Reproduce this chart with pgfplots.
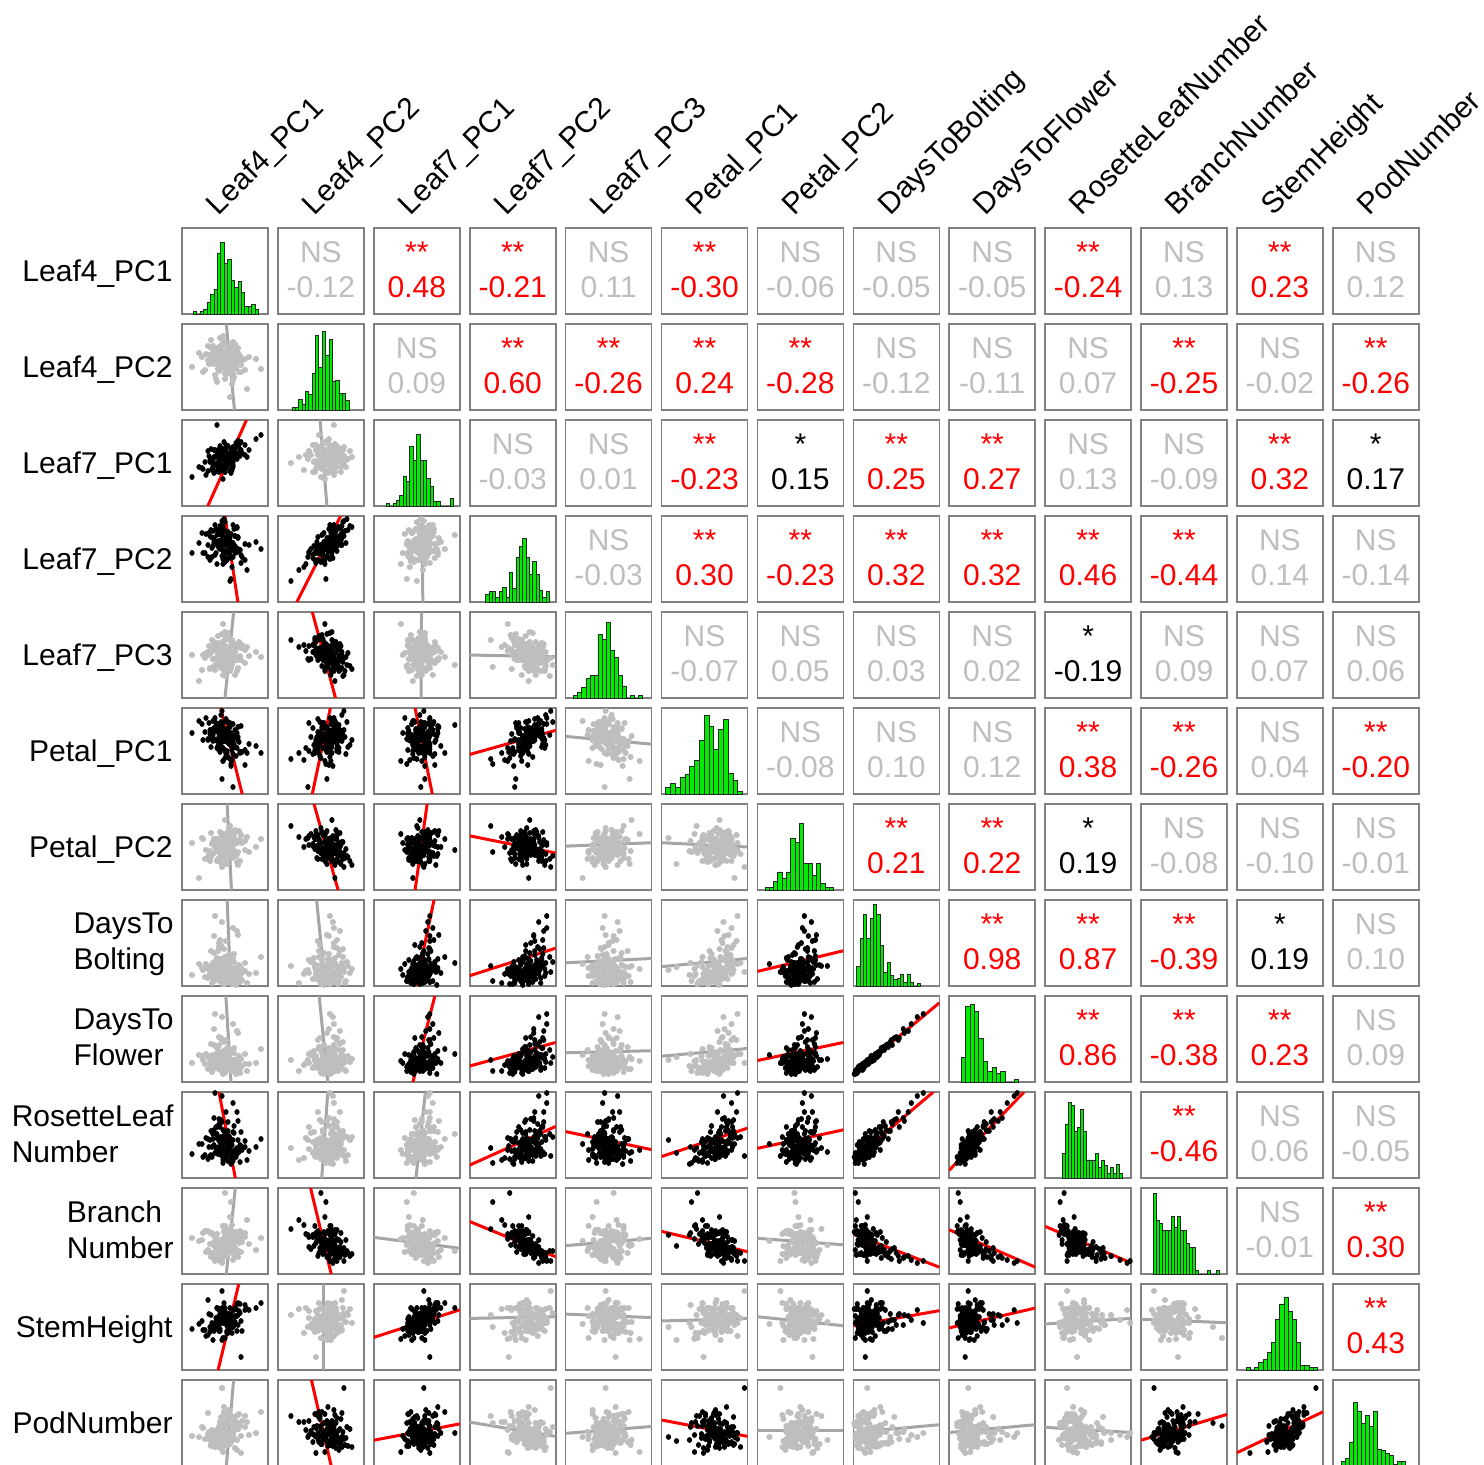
\documentclass[border=0pt]{standalone}
\usepackage{pgfplots}
\pgfplotsset{compat=1.18}
\usepackage{pgfplotstable}
\usepackage{fontspec}
\setmainfont{Liberation Sans}
\definecolor{nsgray}{RGB}{190,190,190}
\definecolor{linegray}{RGB}{165,165,165}
\definecolor{boxgray}{RGB}{128,128,128}
\definecolor{histgreen}{RGB}{0,235,0}
\definecolor{sigred}{RGB}{255,0,0}
\newcommand{\cellfont}{\fontsize{15}{17.5}\selectfont}
\newcommand{\lblfont}{\fontsize{15}{18}\selectfont}
% light-weight round dot mark (a tiny stroke with round caps)
\pgfdeclareplotmark{dot}{\pgfpathmoveto{\pgfqpoint{0pt}{0pt}}\pgfpathlineto{\pgfqpoint{0.01pt}{0pt}}\pgfusepathqstroke}

\pgfplotstableread{
v1 v2 v3 v4 v5 v6 v7 v8 v9 v10 v11 v12 v13
52 60 49 70 58 70 43 18 25 30 45 60 40
38 71 52 71 37 60 55 24 28 46 28 47 36
61 49 66 58 57 45 54 12 21 32 47 68 57
45 62 42 79 46 70 37 33 34 43 30 48 27
55 52 58 53 66 78 49 20 26 47 41 69 40
47 66 62 81 42 77 57 45 49 63 22 57 31
33 57 42 52 53 61 39 15 20 26 50 42 39
64 45 68 58 63 59 66 28 33 33 38 66 59
50 74 52 78 34 64 39 10 19 29 26 55 28
42 35 58 45 54 53 58 22 26 47 47 69 43
58 63 66 84 44 77 52 65 65 82 21 57 38
49 51 44 48 70 60 38 17 20 46 36 69 61
70 58 68 65 42 36 56 30 35 38 48 72 46
40 42 41 54 60 73 53 14 21 32 44 48 31
54 68 56 72 44 76 42 38 39 49 31 46 30
27 60 45 76 35 77 59 25 33 41 41 56 46
57 33 43 42 60 41 50 19 24 27 56 44 51
46 55 63 67 37 55 64 11 19 40 37 55 33
63 64 69 60 59 61 32 21 26 35 47 74 58
51 47 63 72 54 82 62 52 49 73 25 62 40
36 77 54 79 52 54 40 27 33 30 28 62 27
48 59 47 50 50 53 45 9 15 22 55 54 47
59 40 58 60 46 64 63 31 36 52 32 52 42
44 70 41 68 59 67 52 16 23 34 39 46 32
53 61 67 77 42 79 41 23 26 54 28 63 28
17 50 36 56 50 68 54 18 26 31 43 48 37
50 72 50 87 29 66 38 36 39 51 30 69 41
67 56 60 52 60 49 54 13 23 35 39 46 52
43 48 57 63 69 55 57 42 42 46 28 55 31
56 66 51 63 37 57 61 20 25 27 51 63 55
31 63 38 75 52 83 47 29 35 47 29 41 34
61 53 70 60 45 65 41 8 15 28 49 68 50
48 81 56 82 36 61 32 24 30 48 27 54 26
39 58 63 71 55 70 58 57 60 67 23 52 41
52 44 52 49 67 48 58 26 28 34 46 45 37
45 65 56 78 44 70 49 15 22 36 28 66 51
74 60 63 64 49 57 45 19 25 34 37 67 38
41 38 62 56 45 78 52 33 35 58 34 59 38
58 75 46 66 48 47 48 12 18 24 41 55 35
35 54 51 49 36 67 36 22 29 45 48 45 34
55 20 50 28 65 42 71 27 29 37 52 62 57
47 62 61 76 59 69 61 71 72 89 18 67 36
62 68 54 82 34 53 35 17 21 31 26 46 23
49 57 71 66 57 72 50 34 38 35 49 74 66
40 69 56 68 35 70 50 21 29 38 34 51 26
57 46 46 59 65 56 39 14 22 40 47 51 47
44 63 53 75 46 73 47 46 44 61 32 48 46
53 59 58 70 72 44 46 11 20 24 37 44 28
66 52 71 54 45 75 62 25 30 53 29 56 37
46 71 53 83 53 86 43 30 35 48 28 59 26
50 64 41 64 40 68 59 16 19 37 51 54 40
28 45 44 56 50 61 58 23 29 28 48 47 45
59 58 61 80 48 57 45 39 41 59 26 67 50
37 61 44 52 65 62 43 10 17 28 47 54 39
54 50 51 64 47 62 69 28 29 47 31 58 29
45 79 62 83 39 56 36 20 27 45 25 68 44
63 56 72 71 47 74 66 58 56 64 24 62 44
52 66 46 58 57 50 43 13 22 43 42 44 35
34 53 57 76 59 78 42 24 31 38 29 63 41
48 60 55 59 30 40 46 17 23 25 55 39 38
70 47 58 49 55 51 47 22 25 44 44 67 57
42 64 49 79 62 72 36 35 41 58 23 49 30
57 67 53 66 41 54 48 9 18 32 31 61 35
51 42 68 51 53 47 51 31 33 43 46 54 39
39 57 40 65 39 62 58 12 22 40 36 50 27
60 73 66 73 30 71 44 25 29 35 33 61 34
46 49 48 63 50 79 48 48 51 65 33 57 56
56 62 58 51 64 35 46 18 23 21 46 54 33
44 55 53 65 43 74 58 27 30 45 33 55 41
81 58 74 67 53 55 50 20 26 38 31 69 40
50 44 41 56 65 51 48 15 23 29 55 58 59
36 69 64 72 55 71 64 42 45 54 24 48 29
65 61 63 59 46 48 36 11 16 23 50 73 47
53 51 55 62 39 72 65 37 42 63 29 54 29
43 63 45 76 50 77 36 19 26 35 34 68 41
58 37 54 52 46 14 59 23 29 45 46 50 36
47 56 58 53 71 22 33 26 32 32 35 37 32
60 65 61 73 53 65 67 14 22 35 27 60 25
49 76 54 90 40 79 41 31 32 48 30 64 46
38 60 45 63 46 66 54 19 27 51 27 37 31
55 54 42 66 34 65 48 21 25 36 64 60 59
45 58 62 60 50 59 51 34 37 43 34 68 48
62 69 59 81 61 63 54 62 58 73 25 61 33
30 47 51 56 47 69 38 16 25 30 50 47 34
54 63 59 72 34 61 52 28 33 43 34 63 63
44 52 50 61 58 53 45 13 20 38 27 53 34
52 70 46 64 45 64 33 22 29 41 48 51 54
40 59 63 84 46 83 54 77 75 92 20 54 40
66 45 63 46 57 49 62 19 23 39 44 20 20
50 61 53 67 73 65 77 27 30 33 36 55 33
24 64 46 66 24 80 19 29 34 41 40 53 36
72 28 56 39 58 48 60 10 18 25 61 68 51
45 66 67 80 58 67 65 53 51 58 20 63 34
56 55 40 30 38 37 45 12 18 22 79 50 50
33 71 62 64 50 62 40 25 33 46 31 77 60
50 50 47 47 55 43 44 9 16 26 88 39 47
48 54 34 45 81 40 63 24 28 35 42 38 21
86 48 78 60 48 48 58 36 40 46 43 74 61
42 63 88 74 40 76 47 30 35 51 30 69 40
47 73 57 88 47 90 30 21 26 29 20 86 85
53 56 58 66 45 66 51 18 24 37 36 60 38
42 67 57 67 57 60 52 26 31 35 41 50 42
60 50 55 63 48 66 44 13 20 34 39 55 44
47 62 47 68 40 59 58 32 37 44 32 60 41
56 70 64 75 51 68 41 21 26 33 31 59 31
39 53 56 67 63 73 44 40 44 55 39 46 41
65 59 57 59 49 49 57 15 20 40 46 64 50
44 46 51 67 51 64 51 24 29 45 40 54 37
51 64 48 66 42 60 49 11 18 28 48 58 50
48 52 64 58 55 73 44 29 33 55 32 61 41
35 62 53 73 37 71 46 19 25 29 37 50 39
58 43 51 63 61 56 60 35 38 53 35 50 46
45 68 52 65 49 49 47 12 19 31 41 46 25
62 57 71 57 45 68 43 23 28 37 40 73 49
41 60 49 80 55 61 52 27 31 33 29 55 34
54 49 58 56 66 57 56 16 22 42 44 55 54
49 72 63 77 43 65 55 44 47 54 30 63 36
57 55 50 60 61 51 47 20 26 29 37 52 34
38 64 47 78 46 80 44 30 34 51 27 52 29
60 61 62 56 55 54 58 17 23 32 43 69 52
46 58 48 68 42 66 42 25 30 43 40 65 43
52 47 48 63 45 59 46 14 21 36 47 46 38
43 66 63 64 43 52 38 22 27 31 33 60 37
55 51 58 74 55 74 65 33 36 42 29 53 29
37 60 43 61 59 65 53 16 22 38 48 52 43
63 69 57 72 37 64 45 26 31 45 30 52 44
50 38 60 57 59 50 61 20 26 36 44 66 52
44 63 55 68 50 68 51 50 52 66 28 52 40
58 54 48 60 50 60 55 12 19 26 47 51 35
47 65 55 73 63 72 48 21 26 41 30 69 50
51 59 54 65 50 62 50 22 27 38 38 57 40
49 62 56 70 47 66 46 19 25 36 35 58 37
53 55 52 62 54 60 53 24 28 42 41 55 42
46 60 57 68 52 64 48 27 31 45 34 59 39
55 64 59 71 46 63 47 16 22 33 36 61 41
}\traits

\pgfplotsset{panel/.style={scale only axis, width=43pt, height=43pt,
  xmin=0, xmax=100, ymin=0, ymax=100, ticks=none,
  axis line style={draw=boxgray, line width=0.8pt},
  anchor=north west}}

\newcommand{\hist}[3]{%
  \pgfmathsetmacro{\hx}{91+47.95*(#1-1)}%
  \pgfmathsetmacro{\hy}{-(114+48*(#1-1))}%
  \begin{axis}[panel, at={(\hx pt,\hy pt)}]
    \addplot[ybar interval=#2, fill=histgreen, draw=black!85, line width=0.3pt] coordinates {#3};
  \end{axis}}

\begin{document}
\begin{tikzpicture}
\useasboundingbox (0,0) rectangle (742pt,-732pt);
\clip (0,0) rectangle (742pt,-732pt);

% ---- lower triangle: scatter panels with fitted lines (line ends given in panel percent)
\foreach \ri/\cj/\sg/\xa/\ya/\xb/\yb in {
2/1/0/61/0/51.5/100,
3/1/1/30/0/75/100, 3/2/0/57/0/49/100,
4/1/1/65/0/50/100, 4/2/1/22/0/73/100, 4/3/0/57/0/56/100,
5/1/0/50/0/60/100, 5/2/1/67/0/40/100, 5/3/0/55/0/55.5/100, 5/4/0/0/50/100/48,
6/1/1/70/0/45/100, 6/2/1/40/0/61/100, 6/3/1/68/0/48/100, 6/4/1/0/46/100/74, 6/5/0/0/67/100/58,
7/1/0/57.5/0/52.5/100, 7/2/1/70/0/42/100, 7/3/1/48/0/62/100, 7/4/1/0/63/100/43, 7/5/0/0/51/100/55, 7/6/0/0/55/100/50,
8/1/0/56.5/0/52.5/100, 8/2/0/55/0/45/100, 8/3/1/49/0/70/100, 8/4/1/0/12/100/44, 8/5/0/0/27/100/32, 8/6/0/0/22.5/100/32, 8/7/1/0/17/100/41,
9/1/0/57/0/51/100, 9/2/0/58/0/48/100, 9/3/1/45.5/0/71/100, 9/4/1/0/18.6/100/46, 9/5/0/0/34/100/36.4, 9/6/0/0/30/100/39, 9/7/1/0/25/100/46, 9/8/1/0/9/100/92,
10/1/1/62/0/43/100, 10/2/0/51/0/58/100, 10/3/0/49/0/60/100, 10/4/1/0/15/100/60, 10/5/1/0/54/100/33, 10/6/1/0/25/100/58, 10/7/1/0/34.5/100/56, 10/8/1/0/21/93/100, 10/9/1/0/9/87/100,
11/1/0/51.5/0/62/100, 11/2/1/62/0/38/100, 11/3/0/0/42.6/100/30, 11/4/1/0/61/100/20, 11/5/0/0/33/100/41.5, 11/6/1/0/49.6/100/26, 11/7/0/0/41.5/100/34, 11/8/1/0/46.5/100/8, 11/9/1/0/51.5/100/8, 11/10/1/0/55.4/100/13,
12/1/1/42/0/66/100, 12/2/0/53.5/0/53.5/100, 12/3/1/0/38/100/70, 12/4/0/0/60/100/62, 12/5/0/0/65/100/61, 12/6/0/0/57/100/60, 12/7/0/0/62/100/51.5, 12/8/1/0/51.5/100/69, 12/9/1/0/49/100/72, 12/10/0/0/53.5/100/60, 12/11/0/0/59/100/55,
13/1/0/51.5/0/60/100, 13/2/1/62/0/39/100, 13/3/1/0/30/100/49, 13/4/0/0/51/100/34.5, 13/5/0/0/38/100/46, 13/6/1/0/53.5/100/34.5, 13/7/0/0/41/100/41, 13/8/0/0/39/100/48, 13/9/0/0/39/100/48, 13/10/0/0/45/100/39, 13/11/1/0/30/100/60, 13/12/1/0/15.5/100/63}{
  \pgfmathsetmacro{\px}{91+47.95*(\cj-1)}
  \pgfmathsetmacro{\py}{-(114+48*(\ri-1))}
  \pgfmathsetmacro{\XA}{7+0.86*\xa}
  \pgfmathsetmacro{\YA}{7+0.86*\ya}
  \pgfmathsetmacro{\XB}{7+0.86*\xb}
  \pgfmathsetmacro{\YB}{7+0.86*\yb}
  \ifnum\sg=1 \def\pc{black}\def\lc{sigred}\def\mw{2.6pt}\else\def\pc{nsgray}\def\lc{linegray}\def\mw{3.1pt}\fi
  \begin{axis}[panel, at={(\px pt,\py pt)}, xmin=7, xmax=93, ymin=7, ymax=93]
    \addplot[only marks, mark=dot, color=\pc, mark options={line width=\mw, line cap=round}] table[x=v\cj, y=v\ri] {\traits};
    \addplot[color=\lc, line width=1.5pt] coordinates {(\XA,\YA) (\XB,\YB)};
  \end{axis}
}

% ---- diagonal: histograms
\hist{1}{1}{(13,3)(17,0)(21,3)(25,6)(29,14)(33,23)(37,29)(41,71)(45,83)(49,59)(53,64)(57,39)(61,31)(65,38)(69,25)(73,9)(77,9)(81,11)(85,6)(89,0)}
\hist{2}{1}{(16.3,3)(20.2,3)(24.1,12)(28,7)(31.9,22)(35.8,18)(39.7,43)(43.6,87)(47.5,50)(51.4,91)(55.3,64)(59.2,82)(63.1,33)(67,35)(70.9,19)(74.8,19)(78.7,11)(82.6,0)}
\hist{3}{1}{(14.5,3)(18.4,0)(22.3,3)(26.2,7)(30.1,12)(34,35)(37.9,29)(41.8,70)(45.7,53)(49.6,83)(53.5,53)(57.4,53)(61.3,32)(65.2,23)(69.1,6)(73,6)(76.9,0)(80.8,0)(84.7,0)(88.6,9)(92.5,0)}
\hist{4}{1}{(18.6,9)(22.5,12)(26.4,12)(30.3,5)(34.2,12)(38.1,17)(42,6)(45.9,35)(49.8,16)(53.7,52)(57.6,65)(61.5,74)(65.4,52)(69.3,32)(73.2,47)(77.1,32)(81,14)(84.9,5)(88.8,12)(92.7,0)}
\hist{5}{0.7}{(9.4,3)(14.1,7)(18.8,12)(23.5,23)(28.2,26)(32.9,26)(37.6,74)(42.3,68)(47,88)(51.7,56)(56.4,47)(61.1,26)(65.8,14)(70.5,0)(75.2,3)(79.9,0)(84.6,3)(89.3,0)}
\hist{6}{0.7}{(4.7,8)(10.3,12)(15.9,8)(21.5,20)(27.1,23)(32.7,32)(38.3,39)(43.9,63)(49.5,91)(55.1,79)(60.7,52)(66.3,75)(71.9,87)(77.5,24)(83.1,16)(88.7,3)(94.3,0)}
\hist{7}{0.75}{(8.6,3)(13.6,3)(18.6,10)(23.6,21)(28.6,14)(33.6,21)(38.6,60)(43.6,55)(48.6,78)(53.6,31)(58.6,31)(63.6,17)(68.6,31)(73.6,8)(78.6,3)(83.6,3)(88.6,0)}
\hist{8}{1}{(3.9,23)(7.8,55)(11.7,83)(15.6,55)(19.5,79)(23.4,95)(27.3,83)(31.2,47)(35.1,16)(39,27)(42.9,12)(46.8,8)(50.7,9)(54.6,14)(58.5,4)(62.4,14)(66.3,4)(70.2,0)(74.1,3)(78,0)}
\hist{9}{1}{(14,29)(19.1,88)(24.2,90)(29.3,82)(34.4,51)(39.5,24)(44.6,12)(49.7,17)(54.8,10)(59.9,12)(65,0)(70.1,0)(75.2,3)(80.3,0)}
\hist{10}{1}{(20.2,29)(23.7,63)(27.2,88)(30.7,84)(34.2,54)(37.7,59)(41.2,80)(44.7,54)(48.2,21)(51.7,21)(55.2,21)(58.7,29)(62.2,12)(65.7,21)(69.2,15)(72.7,5)(76.2,13)(79.7,5)(83.2,16)(86.7,5)(90.2,0)}
\hist{11}{1}{(14.4,94)(17.9,63)(21.4,59)(24.9,51)(28.4,51)(31.9,51)(35.4,67)(38.9,54)(42.4,67)(45.9,51)(49.4,51)(52.9,36)(56.4,31)(59.9,31)(63.4,4)(66.9,0)(70.4,0)(73.9,0)(77.4,4)(80.9,0)(84.4,0)(87.9,4)(91.4,0)}
\hist{12}{0.75}{(10.9,3)(15.75,0)(20.6,3)(25.45,9)(30.3,12)(35.15,21)(40,32)(44.85,59)(49.7,77)(54.55,85)(59.4,68)(64.25,59)(69.1,32)(73.95,5)(78.8,5)(83.65,3)(88.5,3)(93.35,0)}
\hist{13}{0.75}{(10,5)(14.65,9)(19.3,28)(23.95,74)(28.6,64)(33.25,50)(37.9,59)(42.55,46)(47.2,64)(51.85,20)(56.5,18)(61.15,15)(65.8,12)(70.45,2)(75.1,5)(79.75,6)(84.4,0)}

% ---- upper triangle: correlation cells
\foreach \ri/\cj/\ta/\va/\cc in {
1/2/NS/-0.12/nsgray, 1/3/**/0.48/sigred, 1/4/**/-0.21/sigred, 1/5/NS/0.11/nsgray, 1/6/**/-0.30/sigred, 1/7/NS/-0.06/nsgray, 1/8/NS/-0.05/nsgray, 1/9/NS/-0.05/nsgray, 1/10/**/-0.24/sigred, 1/11/NS/0.13/nsgray, 1/12/**/0.23/sigred, 1/13/NS/0.12/nsgray,
2/3/NS/0.09/nsgray, 2/4/**/0.60/sigred, 2/5/**/-0.26/sigred, 2/6/**/0.24/sigred, 2/7/**/-0.28/sigred, 2/8/NS/-0.12/nsgray, 2/9/NS/-0.11/nsgray, 2/10/NS/0.07/nsgray, 2/11/**/-0.25/sigred, 2/12/NS/-0.02/nsgray, 2/13/**/-0.26/sigred,
3/4/NS/-0.03/nsgray, 3/5/NS/0.01/nsgray, 3/6/**/-0.23/sigred, 3/7/*/0.15/black, 3/8/**/0.25/sigred, 3/9/**/0.27/sigred, 3/10/NS/0.13/nsgray, 3/11/NS/-0.09/nsgray, 3/12/**/0.32/sigred, 3/13/*/0.17/black,
4/5/NS/-0.03/nsgray, 4/6/**/0.30/sigred, 4/7/**/-0.23/sigred, 4/8/**/0.32/sigred, 4/9/**/0.32/sigred, 4/10/**/0.46/sigred, 4/11/**/-0.44/sigred, 4/12/NS/0.14/nsgray, 4/13/NS/-0.14/nsgray,
5/6/NS/-0.07/nsgray, 5/7/NS/0.05/nsgray, 5/8/NS/0.03/nsgray, 5/9/NS/0.02/nsgray, 5/10/*/-0.19/black, 5/11/NS/0.09/nsgray, 5/12/NS/0.07/nsgray, 5/13/NS/0.06/nsgray,
6/7/NS/-0.08/nsgray, 6/8/NS/0.10/nsgray, 6/9/NS/0.12/nsgray, 6/10/**/0.38/sigred, 6/11/**/-0.26/sigred, 6/12/NS/0.04/nsgray, 6/13/**/-0.20/sigred,
7/8/**/0.21/sigred, 7/9/**/0.22/sigred, 7/10/*/0.19/black, 7/11/NS/-0.08/nsgray, 7/12/NS/-0.10/nsgray, 7/13/NS/-0.01/nsgray,
8/9/**/0.98/sigred, 8/10/**/0.87/sigred, 8/11/**/-0.39/sigred, 8/12/*/0.19/black, 8/13/NS/0.10/nsgray,
9/10/**/0.86/sigred, 9/11/**/-0.38/sigred, 9/12/**/0.23/sigred, 9/13/NS/0.09/nsgray,
10/11/**/-0.46/sigred, 10/12/NS/0.06/nsgray, 10/13/NS/-0.05/nsgray,
11/12/NS/-0.01/nsgray, 11/13/**/0.30/sigred,
12/13/**/0.43/sigred}{
  \pgfmathsetmacro{\qx}{91+47.95*(\cj-1)}
  \pgfmathsetmacro{\qy}{-(114+48*(\ri-1))}
  \draw[boxgray, line width=0.8pt] (\qx pt,\qy pt) rectangle ++(43pt,-43pt);
  \node[align=center, text=\cc, inner sep=0pt, font=\cellfont] at (\qx pt+21.5pt, \qy pt-20.75pt) {\ta\\\va};
}

% ---- column labels (rotated)
\foreach \k/\lab in {1/Leaf4\_PC1, 2/Leaf4\_PC2, 3/Leaf7\_PC1, 4/Leaf7\_PC2, 5/Leaf7\_PC3, 6/Petal\_PC1, 7/Petal\_PC2, 8/DaysToBolting, 9/DaysToFlower, 10/RosetteLeafNumber, 11/BranchNumber, 12/StemHeight, 13/PodNumber}{
  \pgfmathsetmacro{\lx}{109.25+47.95*(\k-1)}
  \node[rotate=45, anchor=base west, inner sep=0pt, font=\lblfont] at (\lx pt,-108.25pt) {\lab};
}

% ---- row labels
\foreach \k/\lab in {1/Leaf4\_PC1, 2/Leaf4\_PC2, 3/Leaf7\_PC1, 4/Leaf7\_PC2, 5/Leaf7\_PC3, 6/Petal\_PC1, 7/Petal\_PC2, 12/StemHeight, 13/PodNumber}{
  \pgfmathsetmacro{\ly}{-(271+96*(\k-1)+10.7)/2}
  \node[anchor=base east, inner sep=0pt, font=\lblfont] at (86.5pt,\ly pt) {\lab};
}
\foreach \k/\la/\lb in {8/DaysTo/Bolting, 9/DaysTo/Flower, 10/RosetteLeaf/Number, 11/Branch/Number}{
  \pgfmathsetmacro{\ly}{-(271+96*(\k-1)-31)/2}
  \node[anchor=north east, align=left, inner sep=0pt, font=\lblfont] at (87pt,\ly pt) {\la\\\lb};
}
\end{tikzpicture}
\end{document}
